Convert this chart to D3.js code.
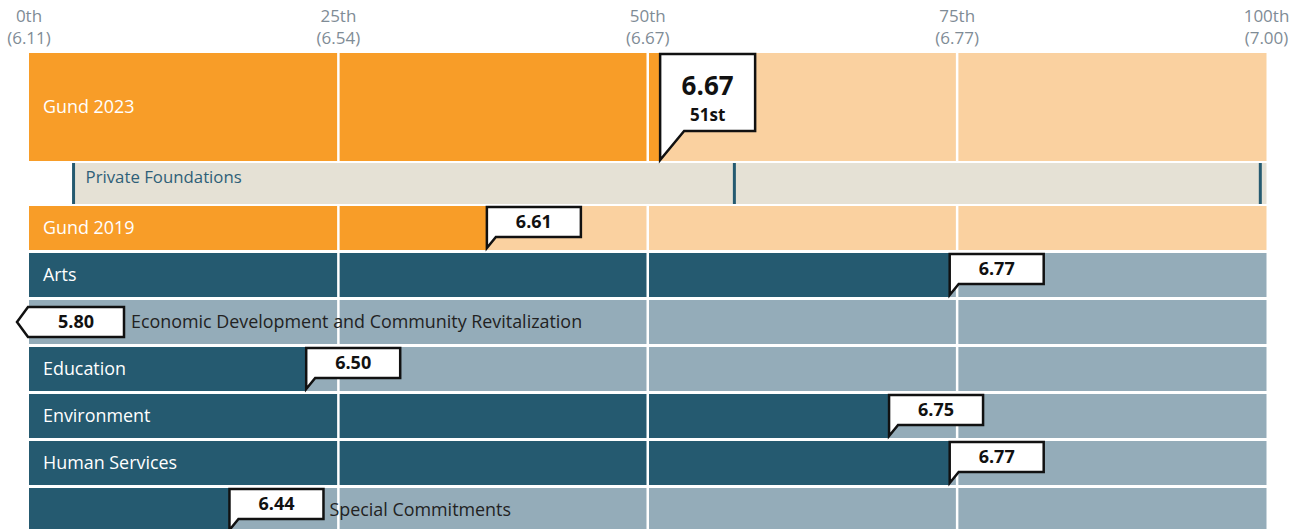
<!DOCTYPE html>
<html>
<head>
<meta charset="utf-8">
<script src="https://cdn.jsdelivr.net/npm/d3@7"></script>
<style>
  body { margin: 0; background: #fff; }
  svg { display: block; font-family: "Open Sans", "Noto Sans", sans-serif; }
</style>
</head>
<body>
<div id="chart"></div>
<script>
var w = 1299; // Set the width
var h = 529;  // Set the height

// axis ticks (percentile -> score)
var tickPcts = [0, 25, 50, 75, 100];
var tickNames = ["0th", "25th", "50th", "75th", "100th"];
var tickScores = ["(6.11)", "(6.54)", "(6.67)", "(6.77)", "(7.00)"];

// Gund rows
var gundYears = ["Gund 2023", "Gund 2019"];
var gundPcts = [51, 37];
var gundScores = ["6.67", "6.61"];
var gundRank = "51st";

// private foundation comparison markers (percentiles)
var pfLabel = "Private Foundations";
var pfMarks = [3.6, 57, 99.5];

// program areas
var categories = ["Arts", "Economic Development and Community Revitalization", "Education",
                  "Environment", "Human Services", "Special Commitments"];
var catPcts = [74.4, 0, 22.4, 69.5, 74.4, 16.2];
var catScores = ["6.77", "5.80", "6.50", "6.75", "6.77", "6.44"];

var dark = { orange: "#f89d28", teal: "#255a70" };
var light = { orange: "#fad1a0", teal: "#94acb9" };

var xScale = d3.scaleLinear().domain([0, 100]).range([29, 1266.5]);

var yScale = d3.scaleBand()
    .domain(categories)
    .range([253, 532])
    .paddingInner(3 / 47)
    .paddingOuter(0);

// top section layout
var top2023 = { y: 53, h: 108 };
var topPF = { y: 163, h: 41 };
var top2019 = { y: 206, h: 44 };

var labelSize = "17.9px";
var numSize = "18px";

var svg = d3.select("#chart")
    .append("svg")
    .attr("width", w)
    .attr("height", h);

// axis labels
var ticks = svg.append("g").selectAll("text")
    .data(tickPcts)
    .enter()
    .append("text")
    .attr("x", function(d) { return xScale(d); })
    .attr("text-anchor", "middle")
    .style("font-size", "17px")
    .attr("fill", "#7f8c96");
ticks.append("tspan").attr("x", function(d) { return xScale(d); }).attr("y", 22)
    .text(function(d, i) { return tickNames[i]; });
ticks.append("tspan").attr("x", function(d) { return xScale(d); }).attr("y", 44)
    .text(function(d, i) { return tickScores[i]; });

// helper: two-tone bar
function twoTone(y, hh, pct, c) {
    svg.append("rect").attr("x", xScale(0)).attr("y", y)
        .attr("width", xScale(100) - xScale(0)).attr("height", hh).attr("fill", light[c]);
    svg.append("rect").attr("x", xScale(0)).attr("y", y)
        .attr("width", xScale(pct) - xScale(0)).attr("height", hh).attr("fill", dark[c]);
}

twoTone(top2023.y, top2023.h, gundPcts[0], "orange");
twoTone(top2019.y, top2019.h, gundPcts[1], "orange");

// category bars
svg.append("g").selectAll("rect")
    .data(categories)
    .enter()
    .append("rect")
    .attr("x", xScale(0))
    .attr("y", function(d) { return yScale(d); })
    .attr("width", xScale(100) - xScale(0))
    .attr("height", yScale.bandwidth())
    .attr("fill", light.teal);

svg.append("g").selectAll("rect")
    .data(categories)
    .enter()
    .append("rect")
    .attr("x", xScale(0))
    .attr("y", function(d) { return yScale(d); })
    .attr("width", function(d, i) { return xScale(catPcts[i]) - xScale(0); })
    .attr("height", yScale.bandwidth())
    .attr("fill", dark.teal);

// white gridlines
svg.append("g").selectAll("line")
    .data([25, 50, 75])
    .enter()
    .append("line")
    .attr("x1", function(d) { return xScale(d); })
    .attr("x2", function(d) { return xScale(d); })
    .attr("y1", top2023.y)
    .attr("y2", h)
    .attr("stroke", "#fff")
    .attr("stroke-width", 2.5);

// private foundations row
svg.append("rect")
    .attr("x", xScale(pfMarks[0]))
    .attr("y", topPF.y)
    .attr("width", xScale(100) - xScale(pfMarks[0]))
    .attr("height", topPF.h)
    .attr("fill", "#e5e1d5");
svg.append("g").selectAll("line")
    .data(pfMarks)
    .enter()
    .append("line")
    .attr("x1", function(d) { return xScale(d); })
    .attr("x2", function(d) { return xScale(d); })
    .attr("y1", topPF.y)
    .attr("y2", topPF.y + topPF.h)
    .attr("stroke", dark.teal)
    .attr("stroke-width", 3);
svg.append("text")
    .attr("x", xScale(pfMarks[0]) + 12)
    .attr("y", topPF.y + 20)
    .style("font-size", "16.8px")
    .attr("fill", "#2e5f78")
    .text(pfLabel);

// Gund labels
svg.append("text").attr("x", 43).attr("y", top2023.y + top2023.h / 2 + 6)
    .style("font-size", labelSize).attr("fill", "#fff").text(gundYears[0]);
svg.append("text").attr("x", 43).attr("y", top2019.y + top2019.h / 2 + 6)
    .style("font-size", labelSize).attr("fill", "#fff").text(gundYears[1]);

// callout shapes
var boxW = 94, boxH = 30, notch = 9;
function callout(xt, y, hh, label) {
    var path = "M" + xt + "," + (y + 1) + "H" + (xt + boxW) + "V" + (y + 1 + boxH) +
        "H" + (xt + notch) + "L" + xt + "," + (y + hh - 2) + "Z";
    svg.append("path").attr("d", path).attr("fill", "#fff")
        .attr("stroke", "#111").attr("stroke-width", 2.5).attr("stroke-linejoin", "miter");
    svg.append("text").attr("x", xt + boxW / 2).attr("y", y + 1 + boxH / 2 + 6)
        .attr("text-anchor", "middle").style("font-size", numSize).style("font-weight", "bold")
        .attr("fill", "#111").text(label);
}
function calloutLeft(xt, y, hh, label) {
    var cy = y + hh / 2;
    var bx = xt - 1, tip = xt - 12;
    var path = "M" + bx + "," + (cy - 15) + "H" + (bx + boxW + 2) + "V" + (cy + 15) +
        "H" + bx + "L" + tip + "," + cy + "Z";
    svg.append("path").attr("d", path).attr("fill", "#fff")
        .attr("stroke", "#111").attr("stroke-width", 2.5);
    svg.append("text").attr("x", bx + (boxW + 2) / 2).attr("y", cy + 6)
        .attr("text-anchor", "middle").style("font-size", numSize).style("font-weight", "bold")
        .attr("fill", "#111").text(label);
}

// big Gund 2023 callout
(function() {
    var xt = xScale(gundPcts[0]), y = top2023.y;
    var bw = 95, bh = 78;
    var path = "M" + xt + "," + (y + 1) + "H" + (xt + bw) + "V" + (y + bh) +
        "H" + (xt + 24) + "L" + xt + "," + (y + top2023.h - 1) + "Z";
    svg.append("path").attr("d", path).attr("fill", "#fff")
        .attr("stroke", "#111").attr("stroke-width", 2.5);
    svg.append("text").attr("x", xt + bw / 2).attr("y", y + 42)
        .attr("text-anchor", "middle").style("font-size", "26px").style("font-weight", "bold")
        .attr("fill", "#111").text(gundScores[0]);
    svg.append("text").attr("x", xt + bw / 2).attr("y", y + 68)
        .attr("text-anchor", "middle").style("font-size", "17px").style("font-weight", "bold")
        .attr("fill", "#111").text(gundRank);
})();

callout(xScale(gundPcts[1]), top2019.y, top2019.h, gundScores[1]);

// category labels + callouts
categories.forEach(function(c, i) {
    var y = yScale(c), bh = yScale.bandwidth();
    var xt = xScale(catPcts[i]);
    var lab = svg.append("text")
        .attr("x", 43)
        .attr("y", y + bh / 2 + 6)
        .style("font-size", labelSize)
        .attr("fill", "#fff")
        .text(c);
    var len = lab.node().getComputedTextLength();
    if (catPcts[i] <= 0) {
        calloutLeft(xt, y, bh, catScores[i]);
        lab.attr("x", xt + boxW + 8).attr("fill", "#222");
    } else {
        if (43 + len + 20 > xt) {
            lab.attr("x", xt + boxW + 6).attr("fill", "#222");
        }
        callout(xt, y, bh, catScores[i]);
    }
});
</script>
</body>
</html>
